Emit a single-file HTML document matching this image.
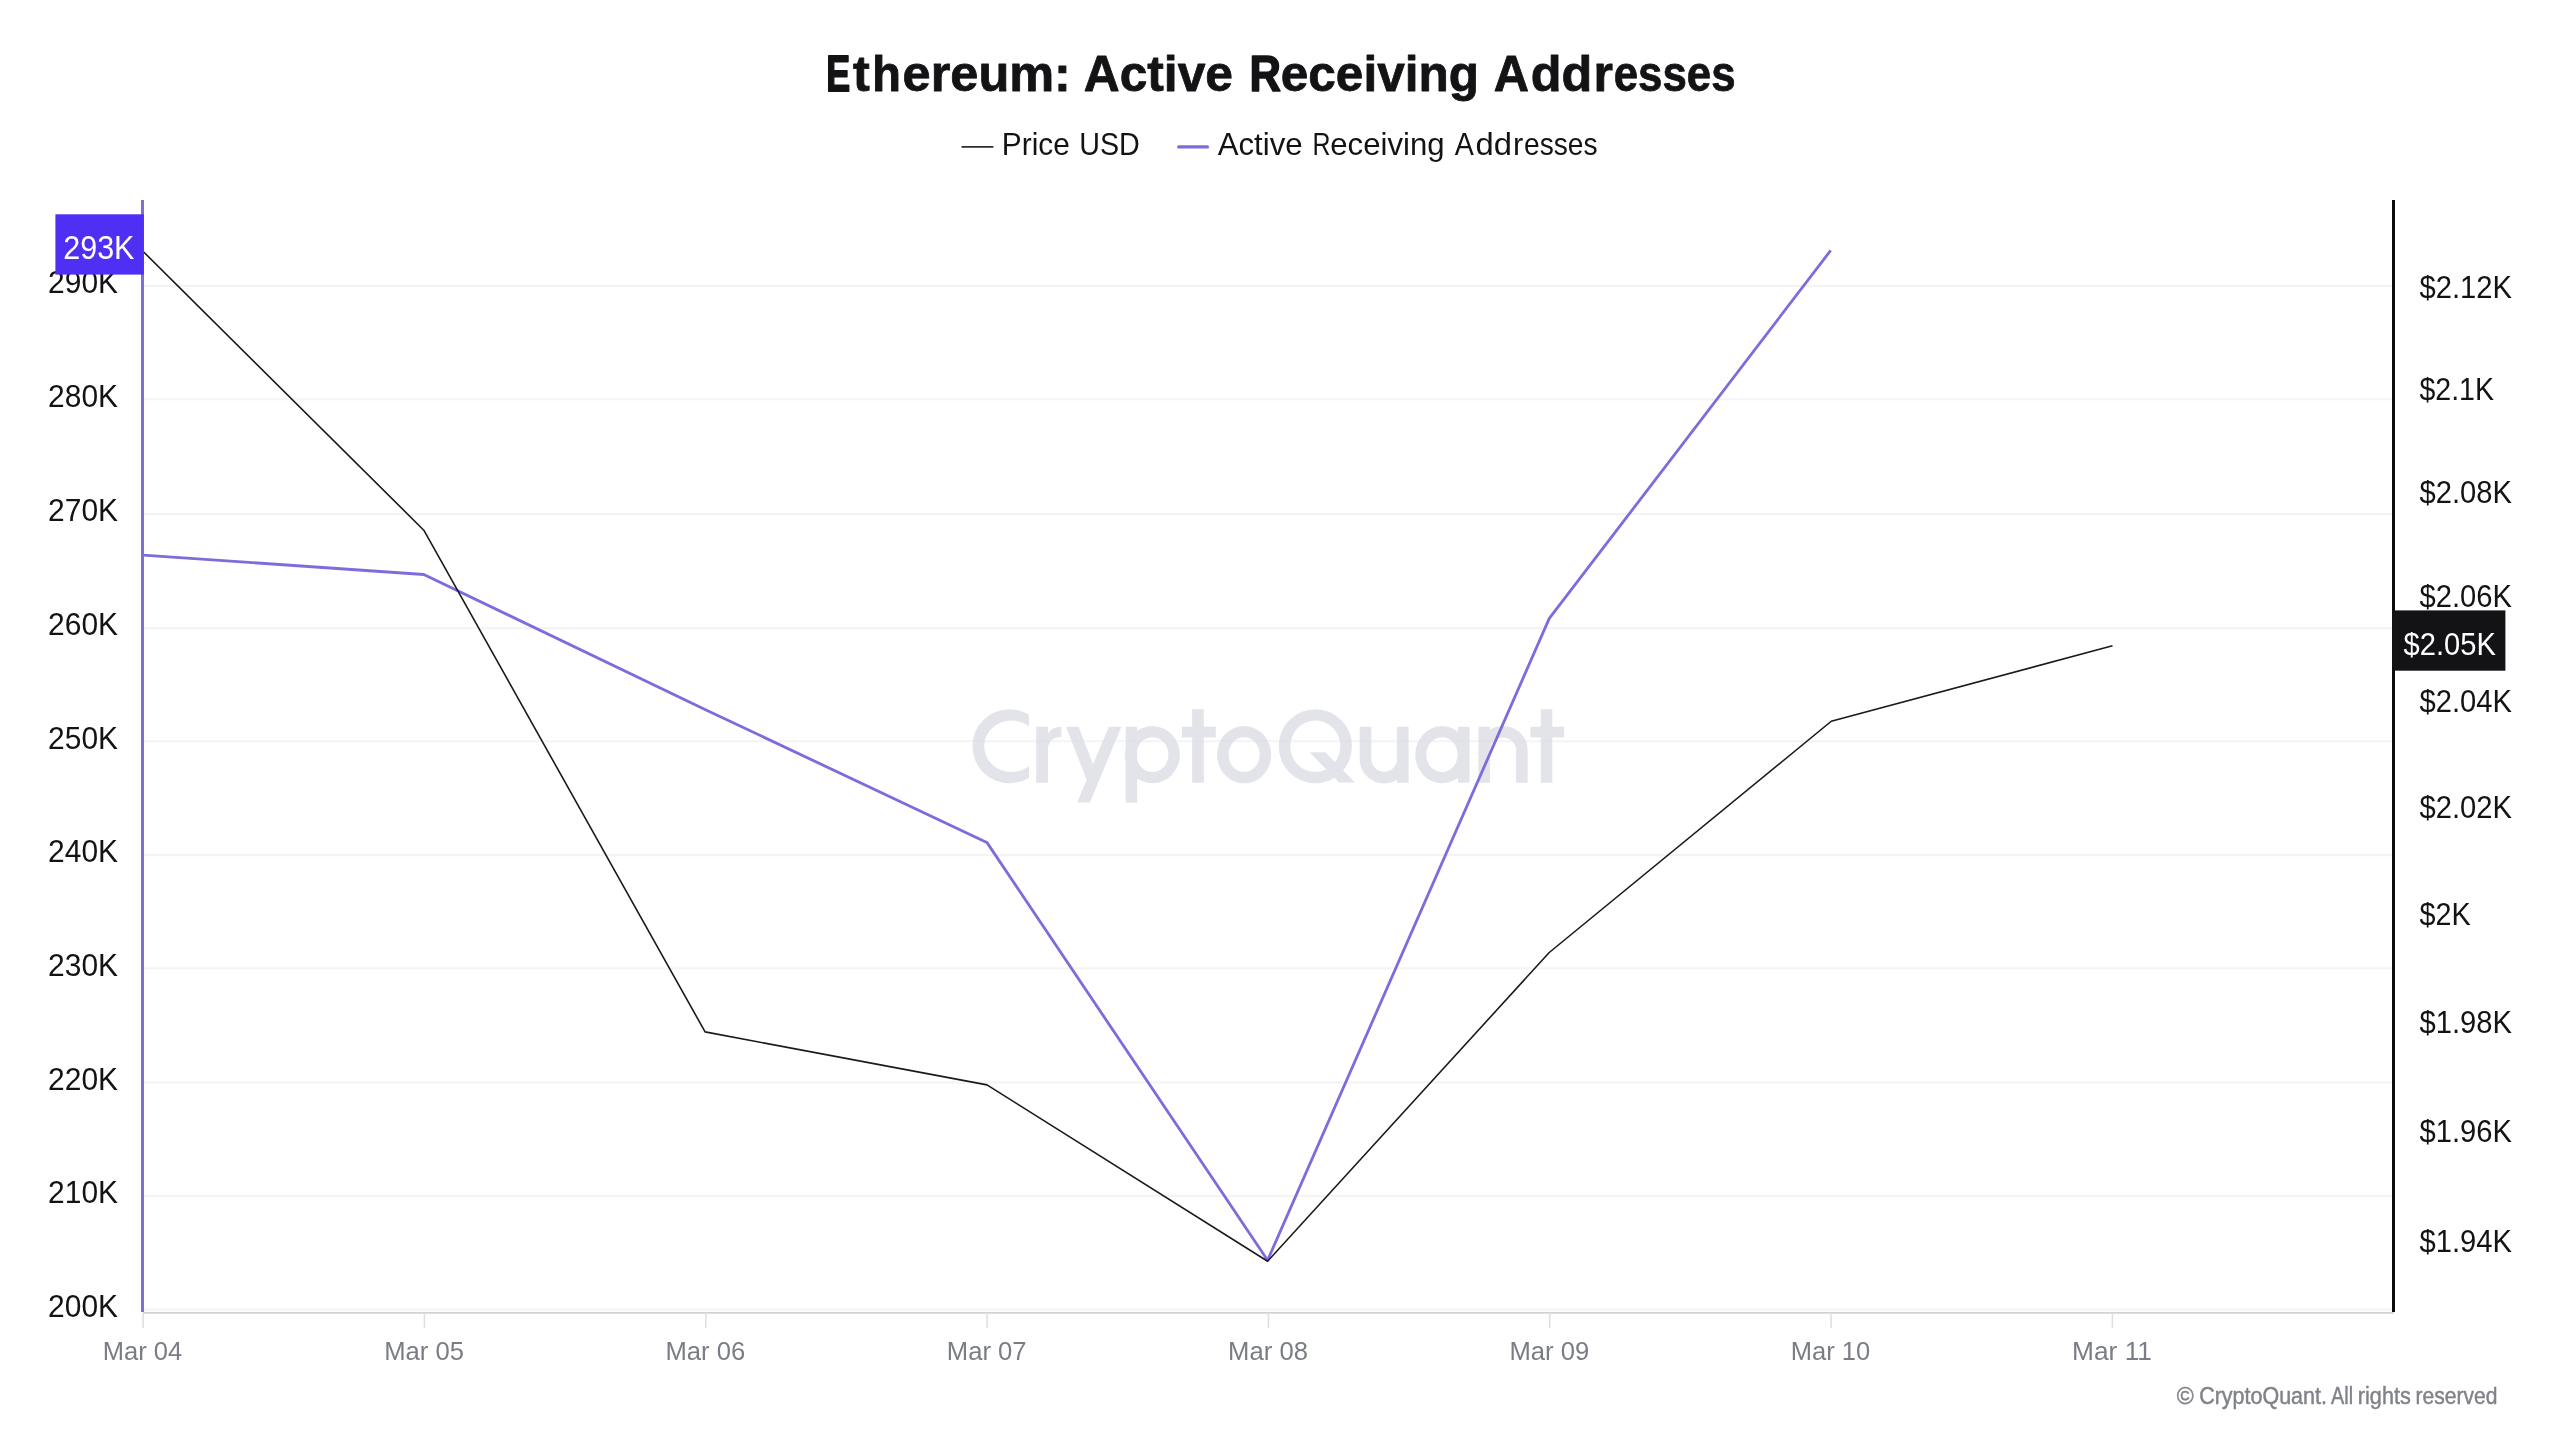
<!DOCTYPE html><html><head><meta charset="utf-8"><title>Ethereum: Active Receiving Addresses</title><style>html,body{margin:0;padding:0;background:#fff}body{width:2560px;height:1440px;overflow:hidden}svg{display:block;transform:translateZ(0);will-change:transform;filter:opacity(1)}text{font-family:"Liberation Sans",sans-serif;white-space:pre}</style></head><body>
<svg width="2560" height="1440" viewBox="0 0 2560 1440">
<rect width="2560" height="1440" fill="#ffffff"/>
<g stroke="#f4f4f5" stroke-width="2.2">
<line x1="144" x2="2392" y1="285.9" y2="285.9"/>
<line x1="144" x2="2392" y1="399.25" y2="399.25"/>
<line x1="144" x2="2392" y1="514.1" y2="514.1"/>
<line x1="144" x2="2392" y1="628.05" y2="628.05"/>
<line x1="144" x2="2392" y1="741.25" y2="741.25"/>
<line x1="144" x2="2392" y1="855.05" y2="855.05"/>
<line x1="144" x2="2392" y1="968.25" y2="968.25"/>
<line x1="144" x2="2392" y1="1082.3" y2="1082.3"/>
<line x1="144" x2="2392" y1="1196" y2="1196"/>
<line x1="144" x2="2392" y1="1309.5" y2="1309.5"/>
</g>
<g fill="#d8dae2" stroke="none" opacity="0.7">
<clipPath id="cc"><rect x="960" y="700" width="68.9" height="100"/></clipPath>
<path clip-path="url(#cc)" fill-rule="evenodd" d="M972.4,746.25a37.05,37.05 0 1 0 74.1,0a37.05,37.05 0 1 0 -74.1,0zM984.2,746.25a27.3,25.65 0 1 0 54.6,0a27.3,25.65 0 1 0 -54.6,0z"/>
<rect x="1036.2" y="726.7" width="11.8" height="56.1"/>
<path d="M1047.5,752 C1047.5,742 1052.5,737.3 1061.4,737.05 L1061.4,726.7 C1054.5,726.7 1050,729.5 1047.5,735 Z"/>
<polygon points="1108.8,726.7 1121.4,726.7 1090,802.4 1077.1,802.4"/>
<polygon points="1066,726.7 1078.6,726.7 1093.1,764.2 1098,768 1092,782 1086.8,780.4"/>
<rect x="1125.7" y="726.7" width="11.4" height="76.05"/>
<path  fill-rule="evenodd" d="M1124.9,754.65a27.5,28.65 0 1 0 55,0a27.5,28.65 0 1 0 -55,0zM1136.4,754.65a16,17.4 0 1 0 32,0a16,17.4 0 1 0 -32,0z"/>
<rect x="1192.1" y="709.2" width="11.7" height="73.5"/>
<rect x="1181.8" y="726.7" width="34" height="10.7"/>
<path  fill-rule="evenodd" d="M1217,754.65a27.1,28.65 0 1 0 54.2,0a27.1,28.65 0 1 0 -54.2,0zM1228.6,754.65a15.5,17.4 0 1 0 31,0a15.5,17.4 0 1 0 -31,0z"/>
<path  fill-rule="evenodd" d="M1278.7,746.25a36.65,37.05 0 1 0 73.3,0a36.65,37.05 0 1 0 -73.3,0zM1290.3,746.25a25.05,25.8 0 1 0 50.1,0a25.05,25.8 0 1 0 -50.1,0z"/>
<polygon points="1309.6,752.3 1325.3,752.3 1355.1,782.5 1339,782.5"/>
<path fill="none" stroke="#d8dae2" stroke-width="11.7" d="M1365.5,726.7 V759 A18.65,18.65 0 0 0 1402.8,759 M1402.8,726.7 V782.7"/>
<path  fill-rule="evenodd" d="M1415.25,754.65a26.7,28.65 0 1 0 53.4,0a26.7,28.65 0 1 0 -53.4,0zM1426.3,754.65a15.65,17.4 0 1 0 31.3,0a15.65,17.4 0 1 0 -31.3,0z"/>
<rect x="1458" y="726.7" width="11.5" height="56"/>
<path fill="none" stroke="#d8dae2" stroke-width="11.6" d="M1484.3,726.7 V782.7 M1484.3,750.5 A18.8,18.8 0 0 1 1521.9,750.5 V782.7"/>
<rect x="1540.8" y="709.2" width="11.5" height="73.5"/>
<rect x="1530.5" y="726.7" width="33.6" height="10.7"/>
</g>
<rect x="143" y="1311.9" width="2251" height="1.8" fill="#d2d2d4"/>
<g fill="#e0e0e3">
<rect x="142.3" y="1313" width="1.6" height="15"/>
<rect x="423.63" y="1313" width="1.6" height="15"/>
<rect x="704.96" y="1313" width="1.6" height="15"/>
<rect x="986.29" y="1313" width="1.6" height="15"/>
<rect x="1267.62" y="1313" width="1.6" height="15"/>
<rect x="1548.95" y="1313" width="1.6" height="15"/>
<rect x="1830.28" y="1313" width="1.6" height="15"/>
<rect x="2111.61" y="1313" width="1.6" height="15"/>
</g>
<polyline fill="none" stroke="#7c6cdc" stroke-width="2.8" stroke-linejoin="round" stroke-linecap="butt" points="143.2,555.1 423.8,574.5 705,709.5 986.85,842.4 1267.6,1260.3 1549.3,618.4 1830.7,250.4"/>
<polyline fill="none" stroke="#1a1a1c" stroke-width="1.6" stroke-linejoin="round" points="143.2,251.5 423.8,530.2 705.1,1031.9 987,1084.85 1267.6,1261.2 1549.25,952.5 1831.25,721.25 2112.5,645.75"/>
<rect x="141" y="200" width="3" height="1112" fill="#7d6ed8"/>
<rect x="2392" y="200" width="3" height="1112" fill="#0b0b0d"/>
<rect x="961.5" y="146.1" width="31.9" height="1.6" fill="#1a1a1c"/>
<line x1="1178.6" x2="1207.5" y1="146.9" y2="146.9" stroke="#7c6cdc" stroke-width="3.1" stroke-linecap="round"/>
<text transform="translate(826.2,90.9) scale(0.7141,1)" font-size="50.3" fill="#131316" font-weight="700" stroke="#131316" stroke-width="1.8" stroke-linejoin="round">E</text>
<text transform="translate(853.05,90.9) scale(1.0026,1)" font-size="50.3" fill="#131316" font-weight="700" stroke="#131316" stroke-width="0.8" stroke-linejoin="round">t</text>
<text transform="translate(872.24,90.9) scale(0.9315,1)" font-size="50.3" fill="#131316" font-weight="700" stroke="#131316" stroke-width="1" stroke-linejoin="round">h</text>
<text transform="translate(902.57,90.9) scale(1.0041,1)" font-size="50.3" fill="#131316" font-weight="700" stroke="#131316" stroke-width="0.8" stroke-linejoin="round">ereum:</text>
<text transform="translate(1083.72,90.9) scale(0.9891,1)" font-size="50.3" fill="#131316" font-weight="700" stroke="#131316" stroke-width="0.8" stroke-linejoin="round">Active</text>
<text transform="translate(1249.57,90.9) scale(0.8663,1)" font-size="50.3" fill="#131316" font-weight="700" stroke="#131316" stroke-width="1.6" stroke-linejoin="round">R</text>
<text transform="translate(1280.75,90.9) scale(0.9848,1)" font-size="50.3" fill="#131316" font-weight="700" stroke="#131316" stroke-width="0.8" stroke-linejoin="round">eceiving</text>
<text transform="translate(1493.73,90.9) scale(0.9694,1)" font-size="50.3" fill="#131316" font-weight="700" stroke="#131316" stroke-width="0.8" stroke-linejoin="round">A</text>
<text transform="translate(1530.73,90.9) scale(1.0024,1)" font-size="50.3" fill="#131316" font-weight="700" stroke="#131316" stroke-width="0.8" stroke-linejoin="round">dd</text>
<text transform="translate(1593.38,90.9) scale(0.9928,1)" font-size="50.3" fill="#131316" font-weight="700" stroke="#131316" stroke-width="0.8" stroke-linejoin="round">r</text>
<text transform="translate(1613.78,90.9) scale(0.8704,1)" font-size="50.3" fill="#131316" font-weight="700" stroke="#131316" stroke-width="0.8" stroke-linejoin="round">esses</text>
<text transform="translate(1001.82,154.85) scale(0.9402,1)" font-size="31.74" fill="#131316">Price</text>
<text transform="translate(1079.21,154.85) scale(0.9041,1)" font-size="31.74" fill="#131316">USD</text>
<text transform="translate(1217.7,154.85) scale(0.9830,1)" font-size="31.74" fill="#131316">Active</text>
<text transform="translate(1312.45,154.85) scale(0.7859,1)" font-size="31.74" fill="#131316">R</text>
<text transform="translate(1330.28,154.85) scale(0.9813,1)" font-size="31.74" fill="#131316">eceiving</text>
<text transform="translate(1454.8,154.85) scale(0.9004,1)" font-size="31.74" fill="#131316">A</text>
<text transform="translate(1475.48,154.85) scale(1.0329,1)" font-size="31.74" fill="#131316">dd</text>
<text transform="translate(1513.07,154.85) scale(0.9726,1)" font-size="31.74" fill="#131316">r</text>
<text transform="translate(1524.02,154.85) scale(0.8872,1)" font-size="31.74" fill="#131316">esses</text>
<text transform="translate(48.09,293.2) scale(0.9447,1)" font-size="31.74" fill="#131316">290K</text>
<text transform="translate(48.09,406.55) scale(0.9447,1)" font-size="31.74" fill="#131316">280K</text>
<text transform="translate(48.09,521.4) scale(0.9447,1)" font-size="31.74" fill="#131316">270K</text>
<text transform="translate(48.09,635.35) scale(0.9447,1)" font-size="31.74" fill="#131316">260K</text>
<text transform="translate(48.09,748.55) scale(0.9447,1)" font-size="31.74" fill="#131316">250K</text>
<text transform="translate(48.09,862.35) scale(0.9447,1)" font-size="31.74" fill="#131316">240K</text>
<text transform="translate(48.09,975.55) scale(0.9447,1)" font-size="31.74" fill="#131316">230K</text>
<text transform="translate(48.09,1089.6) scale(0.9447,1)" font-size="31.74" fill="#131316">220K</text>
<text transform="translate(48.09,1203.3) scale(0.9447,1)" font-size="31.74" fill="#131316">210K</text>
<text transform="translate(48.09,1316.8) scale(0.9447,1)" font-size="31.74" fill="#131316">200K</text>
<text transform="translate(2419.5,297.6) scale(0.9187,1)" font-size="31.74" fill="#131316">$2.12K</text>
<text transform="translate(2419.5,399.59) scale(0.8983,1)" font-size="31.74" fill="#131316">$2.1K</text>
<text transform="translate(2419.5,502.56) scale(0.9187,1)" font-size="31.74" fill="#131316">$2.08K</text>
<text transform="translate(2419.5,606.52) scale(0.9187,1)" font-size="31.74" fill="#131316">$2.06K</text>
<text transform="translate(2419.5,711.5) scale(0.9187,1)" font-size="31.74" fill="#131316">$2.04K</text>
<text transform="translate(2419.5,817.51) scale(0.9187,1)" font-size="31.74" fill="#131316">$2.02K</text>
<text transform="translate(2419.5,924.57) scale(0.9068,1)" font-size="31.74" fill="#131316">$2K</text>
<text transform="translate(2419.5,1032.72) scale(0.9187,1)" font-size="31.74" fill="#131316">$1.98K</text>
<text transform="translate(2419.5,1141.95) scale(0.9187,1)" font-size="31.74" fill="#131316">$1.96K</text>
<text transform="translate(2419.5,1252.31) scale(0.9187,1)" font-size="31.74" fill="#131316">$1.94K</text>
<text transform="translate(102.81,1359.9) scale(0.9570,1)" font-size="26.67" fill="#7b7d85">Mar 04</text>
<text transform="translate(384.13,1359.9) scale(0.9620,1)" font-size="26.67" fill="#7b7d85">Mar 05</text>
<text transform="translate(665.46,1359.9) scale(0.9620,1)" font-size="26.67" fill="#7b7d85">Mar 06</text>
<text transform="translate(946.79,1359.9) scale(0.9620,1)" font-size="26.67" fill="#7b7d85">Mar 07</text>
<text transform="translate(1228.12,1359.9) scale(0.9620,1)" font-size="26.67" fill="#7b7d85">Mar 08</text>
<text transform="translate(1509.45,1359.9) scale(0.9620,1)" font-size="26.67" fill="#7b7d85">Mar 09</text>
<text transform="translate(1790.79,1359.9) scale(0.9570,1)" font-size="26.67" fill="#7b7d85">Mar 10</text>
<text transform="translate(2072.05,1359.9) scale(0.9865,1)" font-size="26.67" fill="#7b7d85">Mar 11</text>
<text transform="translate(2176.82,1403.75) scale(0.9835,1)" font-size="23.48" fill="#808289" stroke="#808289" stroke-width="0.45" stroke-linejoin="round">©</text>
<text transform="translate(2199.2,1403.75) scale(0.9148,1)" font-size="23.48" fill="#808289" stroke="#808289" stroke-width="0.45" stroke-linejoin="round">CryptoQuant.</text>
<text transform="translate(2331.09,1403.75) scale(0.8442,1)" font-size="23.48" fill="#808289" stroke="#808289" stroke-width="0.45" stroke-linejoin="round">All</text>
<text transform="translate(2357.85,1403.75) scale(0.9217,1)" font-size="23.48" fill="#808289" stroke="#808289" stroke-width="0.45" stroke-linejoin="round">rights</text>
<text transform="translate(2415.49,1403.75) scale(0.8965,1)" font-size="23.48" fill="#808289" stroke="#808289" stroke-width="0.45" stroke-linejoin="round">reserved</text>
<rect x="55.4" y="214.3" width="88.5" height="60.3" fill="#4f2ff3"/>
<rect x="2392.2" y="610.4" width="113.2" height="60.3" fill="#131316"/>
<text transform="translate(63.17,258.75) scale(0.9370,1)" font-size="32.61" fill="#ffffff">293K</text>
<text transform="translate(2403.6,654.6) scale(0.9063,1)" font-size="32.17" fill="#ffffff">$2.05K</text>
</svg>
</body></html>
